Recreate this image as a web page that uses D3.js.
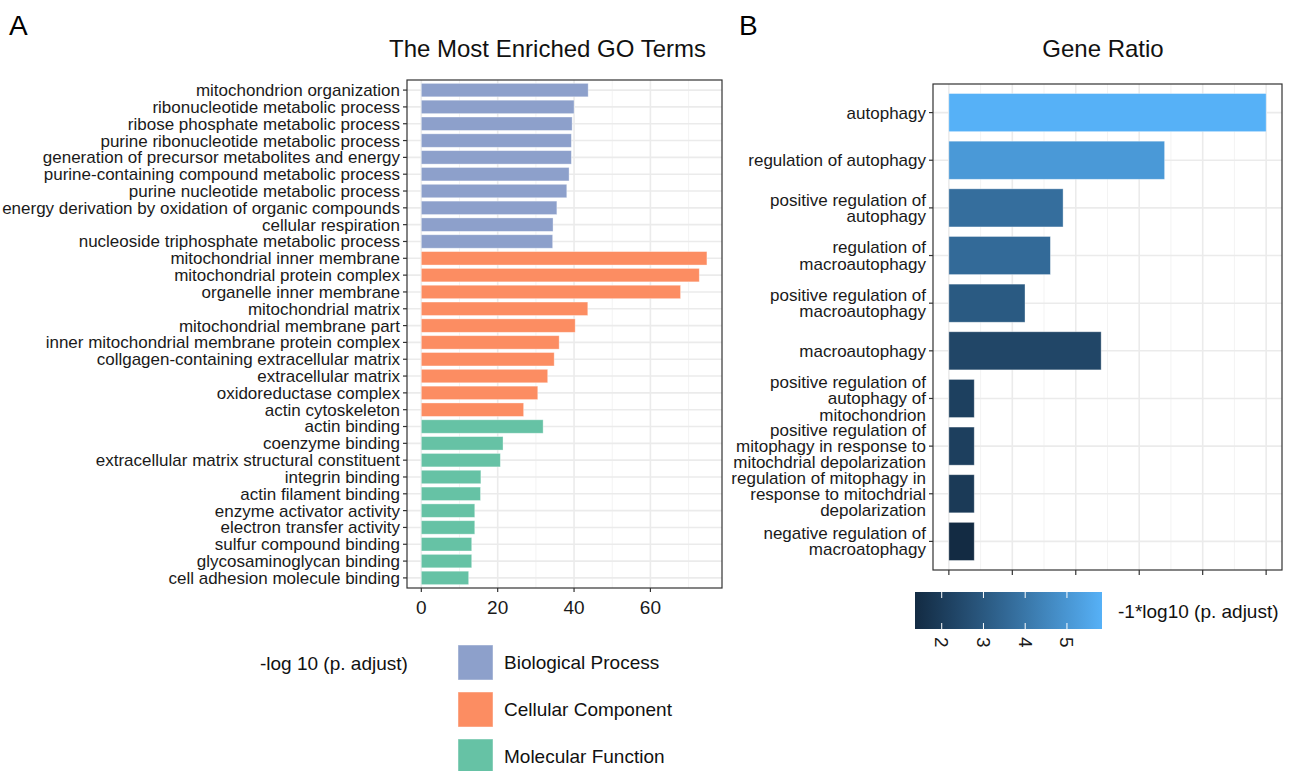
<!DOCTYPE html>
<html>
<head>
<meta charset="utf-8">
<script src="https://cdn.jsdelivr.net/npm/d3@7"></script>
<style>
  body { margin: 0; background: #fff; }
  svg { display: block; font-family: "Liberation Sans", Arial, sans-serif; }
  .grid-major { stroke: #ebebeb; stroke-width: 1.6; }
  .grid-minor { stroke: #f2f2f2; stroke-width: 0.9; }
  .frame { fill: none; stroke: #333; stroke-width: 1.2; }
  .tick { stroke: #333; stroke-width: 1.2; }
  .lab { fill: #1a1a1a; font-size: 17px; }
</style>
</head>
<body>
<svg width="1295" height="771"></svg>
<script>
// panel A: GO enrichment
var goTerms = [
    "mitochondrion organization",
    "ribonucleotide metabolic process",
    "ribose phosphate metabolic process",
    "purine ribonucleotide metabolic process",
    "generation of precursor metabolites and energy",
    "purine-containing compound metabolic process",
    "purine nucleotide metabolic process",
    "energy derivation by oxidation of organic compounds",
    "cellular respiration",
    "nucleoside triphosphate metabolic process",
    "mitochondrial inner membrane",
    "mitochondrial protein complex",
    "organelle inner membrane",
    "mitochondrial matrix",
    "mitochondrial membrane part",
    "inner mitochondrial membrane protein complex",
    "collgagen-containing extracellular matrix",
    "extracellular matrix",
    "oxidoreductase complex",
    "actin cytoskeleton",
    "actin binding",
    "coenzyme binding",
    "extracellular matrix structural constituent",
    "integrin binding",
    "actin filament binding",
    "enzyme activator activity",
    "electron transfer activity",
    "sulfur compound binding",
    "glycosaminoglycan binding",
    "cell adhesion molecule binding"
];
var goValues = [43.7, 40.0, 39.5, 39.3, 39.3, 38.7, 38.1, 35.5, 34.5, 34.4,
                74.8, 72.8, 67.9, 43.6, 40.3, 36.1, 34.8, 33.1, 30.5, 26.8,
                31.9, 21.4, 20.7, 15.6, 15.5, 14.0, 14.0, 13.2, 13.2, 12.4];
var goOntology = ["BP", "BP", "BP", "BP", "BP", "BP", "BP", "BP", "BP", "BP",
                  "CC", "CC", "CC", "CC", "CC", "CC", "CC", "CC", "CC", "CC",
                  "MF", "MF", "MF", "MF", "MF", "MF", "MF", "MF", "MF", "MF"];
var ontologyKeys = ["BP", "CC", "MF"];
var ontologyNames = ["Biological Process", "Cellular Component", "Molecular Function"];
var ontologyColors = ["#8da0cb", "#fc8d62", "#66c2a5"];
var goTicks = [0, 20, 40, 60];

// panel B: autophagy terms
var autoTerms = [
    "autophagy",
    "regulation of autophagy",
    "positive regulation of\nautophagy",
    "regulation of\nmacroautophagy",
    "positive regulation of\nmacroautophagy",
    "macroautophagy",
    "positive regulation of\nautophagy of\nmitochondrion",
    "positive regulation of\nmitophagy in response to\nmitochdrial depolarization",
    "regulation of mitophagy in\nresponse to mitochdrial\ndepolarization",
    "negative regulation of\nmacroatophagy"
];
var autoCount = [25, 17, 9, 8, 6, 12, 2, 2, 2, 2];
var autoLogP = [5.84, 5.11, 3.72, 3.59, 3.04, 2.35, 2.13, 2.10, 1.93, 1.36];
var autoCountTicks = [0, 5, 10, 15, 20, 25];
var autoColorTicks = [2, 3, 4, 5];

var svg = d3.select("svg");

function gridAndFrame(g, x, y, left, right, top, bottom, majors, minors) {
    g.selectAll(".gmin").data(minors).enter().append("line")
        .attr("class", "grid-minor")
        .attr("x1", function(d) { return x(d); }).attr("x2", function(d) { return x(d); })
        .attr("y1", top).attr("y2", bottom);
    g.selectAll(".gmaj").data(majors).enter().append("line")
        .attr("class", "grid-major")
        .attr("x1", function(d) { return x(d); }).attr("x2", function(d) { return x(d); })
        .attr("y1", top).attr("y2", bottom);
    g.selectAll(".gy").data(y.domain()).enter().append("line")
        .attr("class", "grid-major")
        .attr("x1", left).attr("x2", right)
        .attr("y1", function(d) { return y(d); }).attr("y2", function(d) { return y(d); });
}

function frame(g, left, right, top, bottom) {
    g.append("rect").attr("class", "frame")
        .attr("x", left).attr("y", top)
        .attr("width", right - left).attr("height", bottom - top);
}

// ---------- panel A ----------
var A = { left: 407, right: 722, top: 80, bottom: 588 };
var ga = svg.append("g");

var xa = d3.scaleLinear().domain([-3.75, 78.75]).range([A.left, A.right]);
var ya = d3.scalePoint().domain(goTerms).range([A.top, A.bottom]).padding(0.6);
var colA = d3.scaleOrdinal().domain(ontologyKeys).range(ontologyColors);
var bandA = ya.step() * 0.8;

gridAndFrame(ga, xa, ya, A.left, A.right, A.top, A.bottom, goTicks, [10, 30, 50, 70]);

ga.selectAll(".bar").data(goTerms).enter().append("rect")
    .attr("x", xa(0))
    .attr("y", function(d) { return ya(d) - bandA / 2; })
    .attr("width", function(d, i) { return xa(goValues[i]) - xa(0); })
    .attr("height", bandA)
    .attr("fill", function(d, i) { return colA(goOntology[i]); })
    .attr("stroke", "#fff").attr("stroke-opacity", 0.45).attr("stroke-width", 0.8);

frame(ga, A.left, A.right, A.top, A.bottom);

ga.selectAll(".ytick").data(goTerms).enter().append("line")
    .attr("class", "tick")
    .attr("x1", A.left - 4).attr("x2", A.left)
    .attr("y1", function(d) { return ya(d); }).attr("y2", function(d) { return ya(d); });
ga.selectAll(".ylab").data(goTerms).enter().append("text")
    .attr("class", "lab")
    .attr("x", A.left - 7)
    .attr("y", function(d) { return ya(d); })
    .attr("dy", "0.35em")
    .attr("text-anchor", "end")
    .text(function(d) { return d; });

ga.selectAll(".xtick").data(goTicks).enter().append("line")
    .attr("class", "tick")
    .attr("x1", function(d) { return xa(d); }).attr("x2", function(d) { return xa(d); })
    .attr("y1", A.bottom).attr("y2", A.bottom + 4);
ga.selectAll(".xlab").data(goTicks).enter().append("text")
    .attr("x", function(d) { return xa(d); })
    .attr("y", A.bottom + 26)
    .attr("text-anchor", "middle")
    .attr("font-size", 19).attr("fill", "#1a1a1a")
    .text(function(d) { return d; });

ga.append("text").attr("x", (A.left + A.right) / 2 - 17).attr("y", 57)
    .attr("text-anchor", "middle").attr("font-size", 24).attr("fill", "#111")
    .text("The Most Enriched GO Terms");

ga.append("text").attr("x", 260).attr("y", 670)
    .attr("font-size", 19).attr("fill", "#111")
    .text("-log 10 (p. adjust)");

var legA = ga.selectAll(".leg").data(ontologyKeys).enter().append("g")
    .attr("transform", function(d, i) { return "translate(458," + (645 + i * 47) + ")"; });
legA.append("rect").attr("width", 35).attr("height", 35)
    .attr("fill", function(d) { return colA(d); })
    .attr("stroke", "#fff").attr("stroke-opacity", 0.45);
legA.append("text").attr("x", 46).attr("y", 17.5).attr("dy", "0.35em")
    .attr("font-size", 19).attr("fill", "#111")
    .text(function(d, i) { return ontologyNames[i]; });

// ---------- panel B ----------
var B = { left: 933, right: 1282, top: 84, bottom: 570 };
var gb = svg.append("g");

var xb = d3.scaleLinear().domain([-1.25, 26.25]).range([B.left, B.right]);
var yb = d3.scalePoint().domain(autoTerms).range([B.top, B.bottom]).padding(0.6);
var pExtent = d3.extent(autoLogP);
var colB = d3.scaleLinear().domain(pExtent).range(["#132b43", "#56b1f7"])
    .interpolate(d3.interpolateLab);
var bandB = yb.step() * 0.8;

gridAndFrame(gb, xb, yb, B.left, B.right, B.top, B.bottom, autoCountTicks,
             [2.5, 7.5, 12.5, 17.5, 22.5]);

gb.selectAll(".bar").data(autoTerms).enter().append("rect")
    .attr("x", xb(0))
    .attr("y", function(d) { return yb(d) - bandB / 2; })
    .attr("width", function(d, i) { return xb(autoCount[i]) - xb(0); })
    .attr("height", bandB)
    .attr("fill", function(d, i) { return colB(autoLogP[i]); })
    .attr("stroke", "#fff").attr("stroke-opacity", 0.45).attr("stroke-width", 0.8);

frame(gb, B.left, B.right, B.top, B.bottom);

gb.selectAll(".ytick").data(autoTerms).enter().append("line")
    .attr("class", "tick")
    .attr("x1", B.left - 4).attr("x2", B.left)
    .attr("y1", function(d) { return yb(d); }).attr("y2", function(d) { return yb(d); });

var lh = 16.2;
gb.selectAll(".ylab").data(autoTerms).enter().append("text")
    .attr("class", "lab")
    .attr("text-anchor", "end")
    .each(function(d) {
        var lines = d.split("\n");
        var t = d3.select(this);
        var y0 = yb(d) - (lines.length - 1) * lh / 2;
        for (var i = 0; i < lines.length; i++) {
            t.append("tspan").attr("x", B.left - 7).attr("y", y0 + i * lh)
                .attr("dy", "0.35em").text(lines[i]);
        }
    });

gb.selectAll(".xtick").data(autoCountTicks).enter().append("line")
    .attr("class", "tick")
    .attr("x1", function(d) { return xb(d); }).attr("x2", function(d) { return xb(d); })
    .attr("y1", B.bottom).attr("y2", B.bottom + 5);

gb.append("text").attr("x", 1103).attr("y", 57)
    .attr("text-anchor", "middle").attr("font-size", 24).attr("fill", "#111")
    .text("Gene Ratio");

// colour bar
var cb = { left: 915, right: 1102, top: 592, bottom: 629 };
var xc = d3.scaleLinear().domain(pExtent).range([cb.left, cb.right]);
var grad = svg.append("defs").append("linearGradient").attr("id", "cbar");
d3.range(0, 1.0001, 0.1).forEach(function(f) {
    grad.append("stop").attr("offset", f)
        .attr("stop-color", colB(pExtent[0] + f * (pExtent[1] - pExtent[0])));
});
gb.append("rect").attr("x", cb.left).attr("y", cb.top)
    .attr("width", cb.right - cb.left).attr("height", cb.bottom - cb.top)
    .attr("fill", "url(#cbar)");
autoColorTicks.forEach(function(v) {
    gb.append("line").attr("x1", xc(v)).attr("x2", xc(v))
        .attr("y1", cb.top).attr("y2", cb.top + 6)
        .attr("stroke", "#fff").attr("stroke-width", 1);
    gb.append("line").attr("x1", xc(v)).attr("x2", xc(v))
        .attr("y1", cb.bottom - 6).attr("y2", cb.bottom)
        .attr("stroke", "#fff").attr("stroke-width", 1);
    gb.append("text")
        .attr("transform", "translate(" + xc(v) + "," + (cb.bottom + 8) + ") rotate(90)")
        .attr("dy", "0.35em")
        .attr("font-size", 19).attr("fill", "#1a1a1a")
        .text(v);
});
gb.append("text").attr("x", 1118).attr("y", 611).attr("dy", "0.35em")
    .attr("font-size", 19).attr("fill", "#111")
    .text("-1*log10 (p. adjust)");

// panel letters
svg.append("text").attr("x", 9).attr("y", 35).attr("font-size", 28).text("A");
svg.append("text").attr("x", 739).attr("y", 35).attr("font-size", 28).text("B");
</script>
</body>
</html>
